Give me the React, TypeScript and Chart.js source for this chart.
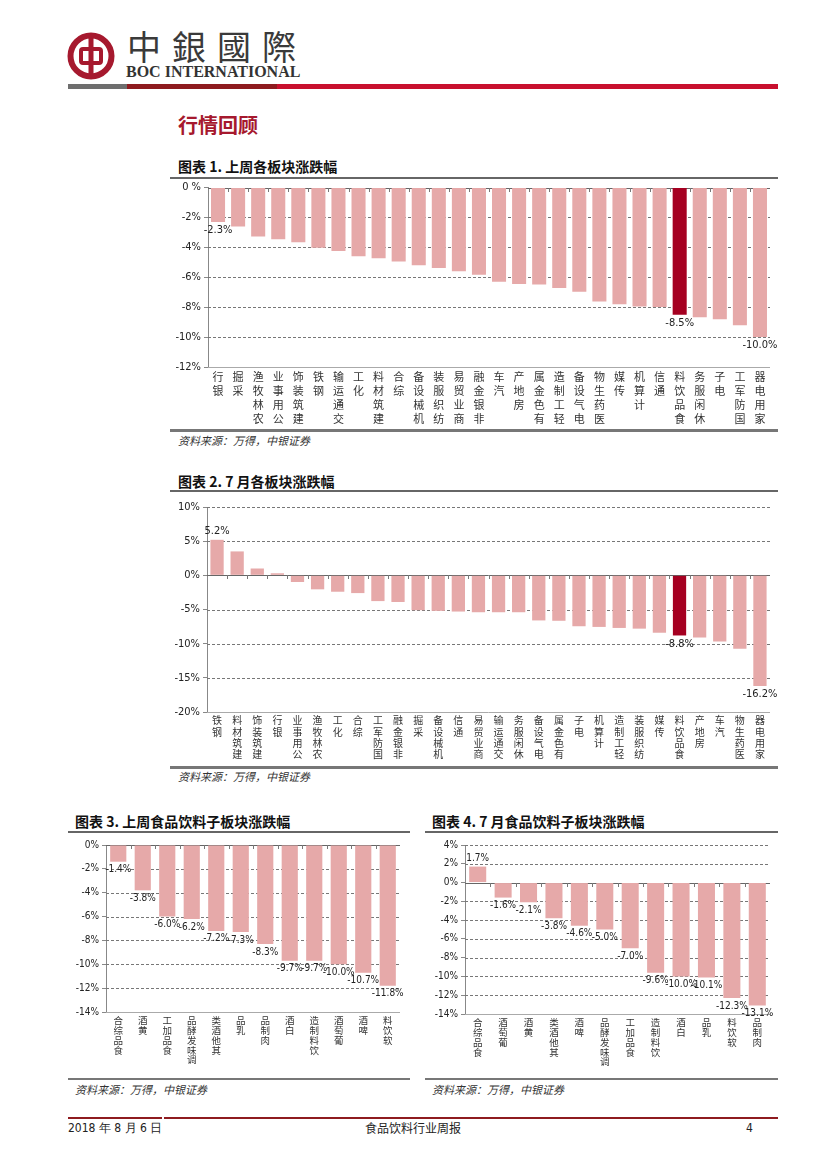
import React, { useEffect, useRef } from "react";
import { Chart, registerables } from "chart.js";

Chart.register(...registerables);

// ---------- data ----------
const weekSectors = ["银行","采掘","农林牧渔","公用事业","建筑装饰","钢铁","交通运输","化工","建筑材料","综合","机械设备","纺织服装","商业贸易","非银金融","汽车","房地产","有色金属","轻工制造","电气设备","医药生物","传媒","计算机","通信","食品饮料","休闲服务","电子","国防军工","家用电器"];
const weekSectorValues = [-2.3,-2.6,-3.27,-3.45,-3.65,-4.02,-4.24,-4.6,-4.73,-4.95,-5.2,-5.37,-5.6,-5.83,-6.3,-6.45,-6.48,-6.72,-6.96,-7.62,-7.8,-7.96,-7.98,-8.5,-8.68,-8.8,-9.2,-10.0];
const weekSectorLabelIdx = [0, 23, 27];

const julySectors = ["钢铁","建筑材料","建筑装饰","银行","公用事业","农林牧渔","化工","综合","国防军工","非银金融","采掘","机械设备","通信","商业贸易","交通运输","休闲服务","电气设备","有色金属","电子","计算机","轻工制造","纺织服装","传媒","食品饮料","房地产","汽车","医药生物","家用电器"];
const julySectorValues = [5.2,3.5,1.0,0.3,-0.98,-2.05,-2.4,-2.6,-3.77,-3.9,-5.1,-5.2,-5.3,-5.4,-5.4,-5.4,-6.6,-6.65,-7.45,-7.55,-7.7,-7.8,-8.4,-8.8,-9.1,-9.7,-10.75,-16.2];
const julySectorLabelIdx = [0, 23, 27];

const weekFood = ["食品综合","黄酒","食品加工","调味发酵品","其他酒类","乳品","肉制品","白酒","饮料制造","葡萄酒","啤酒","软饮料"];
const weekFoodValues = [-1.4,-3.8,-6.0,-6.2,-7.2,-7.3,-8.3,-9.7,-9.7,-10.0,-10.7,-11.8];

const julyFood = ["食品综合","葡萄酒","黄酒","其他酒类","啤酒","调味发酵品","食品加工","饮料制造","白酒","乳品","软饮料","肉制品"];
const julyFoodValues = [1.7,-1.6,-2.1,-3.8,-4.6,-5.0,-7.0,-9.6,-10.0,-10.1,-12.3,-13.1];

const highlightSector = "食品饮料";

const weekSectorAxis = [-12, 0, 2];
const julySectorAxis = [-20, 10, 5];
const weekFoodAxis = [-14, 0, 2];
const julyFoodAxis = [-14, 4, 2];

// ---------- styles ----------
const NUM_FONT = '"Liberation Sans Narrow","Arial Narrow","DejaVu Sans Condensed","Liberation Sans",Arial,sans-serif';
const CJK_FONT = '"Noto Sans CJK SC","Noto Sans",sans-serif';
const LIGHT = "#e6a9a9";
const DARK = "#a50021";
const RED = "#a6192e";

type Cfg = {
  left: number; top: number; width: number; height: number;
  padTop: number; padRight: number; yWidth: number; xHeight: number;
  cats: string[]; values: number[]; highlight: string;
  axis: number[]; zeroSpace?: boolean;
  tickSize: number; catSize: number; catLine: number;
  barPct: number; labelIdx: number[] | null; labelSize: number; labelOff: number;
};

function makePlugin(cfg: Cfg) {
  return {
    id: "customDraw",
    beforeDatasetsDraw(chart: any) {
      const { ctx, chartArea } = chart;
      const y = chart.scales.y;
      ctx.save();
      y.ticks.forEach((t: any) => {
        const py = Math.round(y.getPixelForValue(t.value)) + 0.5;
        ctx.beginPath();
        if (t.value === 0) {
          ctx.setLineDash([]);
          ctx.strokeStyle = "#666";
        } else if (t.value === y.min) {
          ctx.setLineDash([]);
          ctx.strokeStyle = "#aaa";
        } else {
          ctx.setLineDash([3, 2]);
          ctx.strokeStyle = "#777";
        }
        ctx.lineWidth = 1;
        ctx.moveTo(chartArea.left, py);
        ctx.lineTo(chartArea.right, py);
        ctx.stroke();
      });
      ctx.restore();
    },
    afterDatasetsDraw(chart: any) {
      const { ctx } = chart;
      const x = chart.scales.x;
      const y = chart.scales.y;
      const n = chart.data.labels.length;
      const y0 = Math.round(y.getPixelForValue(0));
      ctx.save();
      ctx.setLineDash([]);
      ctx.strokeStyle = "#777";
      ctx.lineWidth = 1;
      for (let i = 1; i < n; i++) {
        const px = Math.round(x.left + (i * x.width) / n) + 0.5;
        ctx.beginPath();
        ctx.moveTo(px, y0);
        ctx.lineTo(px, y0 + 4);
        ctx.stroke();
      }
      const meta = chart.getDatasetMeta(0);
      ctx.fillStyle = "#222";
      ctx.font = `${cfg.labelSize}px ${NUM_FONT}`;
      ctx.textAlign = "center";
      meta.data.forEach((bar: any, i: number) => {
        if (cfg.labelIdx && !cfg.labelIdx.includes(i)) return;
        const v = cfg.values[i];
        const txt = `${v.toFixed(1)}%`;
        if (v < 0) {
          ctx.textBaseline = "top";
          ctx.fillText(txt, bar.x, bar.y + cfg.labelOff);
        } else {
          ctx.textBaseline = "bottom";
          ctx.fillText(txt, bar.x, bar.y - cfg.labelOff);
        }
      });
      ctx.restore();
    },
  };
}

function BarChart({ cfg }: { cfg: Cfg }) {
  const ref = useRef<HTMLCanvasElement | null>(null);
  useEffect(() => {
    if (!ref.current) return;
    const [yMin, yMax, yStep] = cfg.axis;
    const chart = new Chart(ref.current, {
      type: "bar",
      data: {
        labels: cfg.cats.map((c) => c.split("").reverse()),
        datasets: [
          {
            data: cfg.values,
            backgroundColor: cfg.cats.map((c) => (c === cfg.highlight ? DARK : LIGHT)),
            borderWidth: 0,
            categoryPercentage: 1,
            barPercentage: cfg.barPct,
          },
        ],
      },
      options: {
        responsive: false,
        animation: false,
        devicePixelRatio: 1,
        layout: { padding: { top: cfg.padTop, right: cfg.padRight, left: 0, bottom: 0 } },
        plugins: { legend: { display: false }, tooltip: { enabled: false } },
        scales: {
          x: {
            grid: { display: false, drawTicks: false, tickLength: 0 },
            border: { display: false },
            ticks: {
              autoSkip: false,
              maxRotation: 0,
              minRotation: 0,
              padding: 3,
              color: "#333",
              font: { family: CJK_FONT, size: cfg.catSize, lineHeight: cfg.catLine },
            },
            afterFit: (s: any) => { s.height = cfg.xHeight; },
          },
          y: {
            min: yMin,
            max: yMax,
            grid: { drawOnChartArea: false, drawTicks: true, tickLength: 4, tickColor: "#888", color: "#888" },
            border: { display: true, color: "#888", width: 1 },
            ticks: {
              stepSize: yStep,
              padding: 3,
              color: "#222",
              font: { family: NUM_FONT, size: cfg.tickSize },
              callback: (v: any) => (v === 0 && cfg.zeroSpace ? "0 %" : `${v}%`),
            },
            afterFit: (s: any) => { s.width = cfg.yWidth; },
          },
        },
      },
      plugins: [makePlugin(cfg)],
    } as any);
    return () => chart.destroy();
  }, [cfg]);
  return (
    <canvas
      ref={ref}
      width={cfg.width}
      height={cfg.height}
      style={{ position: "absolute", left: cfg.left, top: cfg.top, width: cfg.width, height: cfg.height }}
    />
  );
}

const chart1: Cfg = {
  left: 170, top: 178, width: 620, height: 252, padTop: 9, padRight: 20, yWidth: 38, xHeight: 63,
  cats: weekSectors, values: weekSectorValues, highlight: highlightSector, axis: weekSectorAxis, zeroSpace: true,
  tickSize: 11, catSize: 11, catLine: 1.27, barPct: 0.7, labelIdx: weekSectorLabelIdx, labelSize: 11, labelOff: 3,
};
const chart2: Cfg = {
  left: 170, top: 495, width: 620, height: 267, padTop: 12, padRight: 20, yWidth: 37, xHeight: 50,
  cats: julySectors, values: julySectorValues, highlight: highlightSector, axis: julySectorAxis,
  tickSize: 11, catSize: 10, catLine: 1.12, barPct: 0.66, labelIdx: julySectorLabelIdx, labelSize: 11, labelOff: 3,
};
const chart3: Cfg = {
  left: 68, top: 836, width: 347, height: 232, padTop: 9, padRight: 15, yWidth: 38, xHeight: 56,
  cats: weekFood, values: weekFoodValues, highlight: "", axis: weekFoodAxis,
  tickSize: 10, catSize: 9.5, catLine: 1.05, barPct: 0.66, labelIdx: null, labelSize: 10, labelOff: 3,
};
const chart4: Cfg = {
  left: 425, top: 836, width: 360, height: 234, padTop: 9, padRight: 15, yWidth: 40, xHeight: 56,
  cats: julyFood, values: julyFoodValues, highlight: "", axis: julyFoodAxis,
  tickSize: 10, catSize: 9.5, catLine: 1.05, barPct: 0.67, labelIdx: null, labelSize: 10, labelOff: 3,
};

const abs = (s: React.CSSProperties): React.CSSProperties => ({ position: "absolute", margin: 0, ...s });

function Title({ x, y, text }: { x: number; y: number; text: string }) {
  return (
    <div style={abs({ left: x, top: y, fontFamily: CJK_FONT, fontWeight: 700, fontSize: 14, lineHeight: "16px", color: "#111", whiteSpace: "nowrap" })}>
      {text}
    </div>
  );
}
function HLine({ x, y, w, h, c }: { x: number; y: number; w: number; h: number; c: string }) {
  return <div style={abs({ left: x, top: y, width: w, height: h, background: c })} />;
}
function Source({ x, y }: { x: number; y: number }) {
  return (
    <div style={abs({ left: x, top: y, fontFamily: CJK_FONT, fontStyle: "italic", fontSize: 11, lineHeight: "13px", color: "#333", whiteSpace: "nowrap" })}>
      资料来源：万得，中银证券
    </div>
  );
}

export default function App() {
  return (
    <div style={abs({ left: 0, top: 0, width: 827, height: 1169, background: "#fff", overflow: "hidden" })}>
      {/* header */}
      <svg style={abs({ left: 66, top: 31 })} width={50} height={50} viewBox="0 0 50 50">
        <circle cx={25} cy={25} r={20.5} fill="none" stroke={RED} strokeWidth={6} />
        <rect x={15} y={18} width={20} height={14} rx={2} fill="none" stroke={RED} strokeWidth={4} />
        <rect x={22.5} y={5} width={5} height={40} fill={RED} />
      </svg>
      <div style={abs({ left: 127, top: 29, fontFamily: '"Noto Sans CJK TC",sans-serif', fontSize: 34, lineHeight: "34px", letterSpacing: 11, color: "#3a3a3a", whiteSpace: "nowrap" })}>
        中銀國際
      </div>
      <div style={abs({ left: 126, top: 64, fontFamily: '"Liberation Serif",serif', fontWeight: 700, fontSize: 16, lineHeight: "16px", color: "#333", whiteSpace: "nowrap" })}>
        BOC INTERNATIONAL
      </div>
      <HLine x={68} y={84} w={59} h={5} c="#6e6e6e" />
      <HLine x={127} y={84} w={150} h={5} c="#8e1b1f" />
      <HLine x={277} y={84} w={501} h={5} c="#c8102e" />

      <div style={abs({ left: 178, top: 113, fontFamily: CJK_FONT, fontWeight: 700, fontSize: 20, lineHeight: "24px", color: RED, whiteSpace: "nowrap" })}>
        行情回顾
      </div>

      {/* chart 1 */}
      <Title x={178} y={158} text="图表 1. 上周各板块涨跌幅" />
      <HLine x={170} y={177} w={608} h={2} c="#666" />
      <BarChart cfg={chart1} />
      <HLine x={170} y={429} w={608} h={3} c="#777" />
      <Source x={178} y={434} />

      {/* chart 2 */}
      <Title x={178} y={473} text="图表 2. 7 月各板块涨跌幅" />
      <HLine x={170} y={490} w={608} h={2} c="#666" />
      <BarChart cfg={chart2} />
      <HLine x={170} y={766} w={608} h={3} c="#777" />
      <Source x={178} y={770} />

      {/* chart 3 */}
      <Title x={75} y={813} text="图表 3. 上周食品饮料子板块涨跌幅" />
      <HLine x={68} y={831} w={342} h={2} c="#666" />
      <BarChart cfg={chart3} />
      <HLine x={68} y={1078} w={342} h={2} c="#777" />
      <Source x={75} y={1083} />

      {/* chart 4 */}
      <Title x={432} y={813} text="图表 4. 7 月食品饮料子板块涨跌幅" />
      <HLine x={425} y={831} w={353} h={2} c="#666" />
      <BarChart cfg={chart4} />
      <HLine x={425} y={1078} w={353} h={2} c="#777" />
      <Source x={432} y={1083} />

      {/* footer */}
      <HLine x={68} y={1117} w={94} h={2} c="#8e1b1f" />
      <HLine x={164} y={1117} w={614} h={2} c="#8e1b1f" />
      <div style={abs({ left: 68, top: 1121, fontFamily: NUM_FONT, fontSize: 12, lineHeight: "14px", color: "#222", whiteSpace: "nowrap" })}>
        2018 年 8 月 6 日
      </div>
      <div style={abs({ left: 323, top: 1121, width: 180, textAlign: "center", fontFamily: CJK_FONT, fontSize: 12, lineHeight: "14px", color: "#222", whiteSpace: "nowrap" })}>
        食品饮料行业周报
      </div>
      <div style={abs({ left: 746, top: 1121, fontFamily: NUM_FONT, fontSize: 12, lineHeight: "14px", color: "#222" })}>
        4
      </div>
    </div>
  );
}
